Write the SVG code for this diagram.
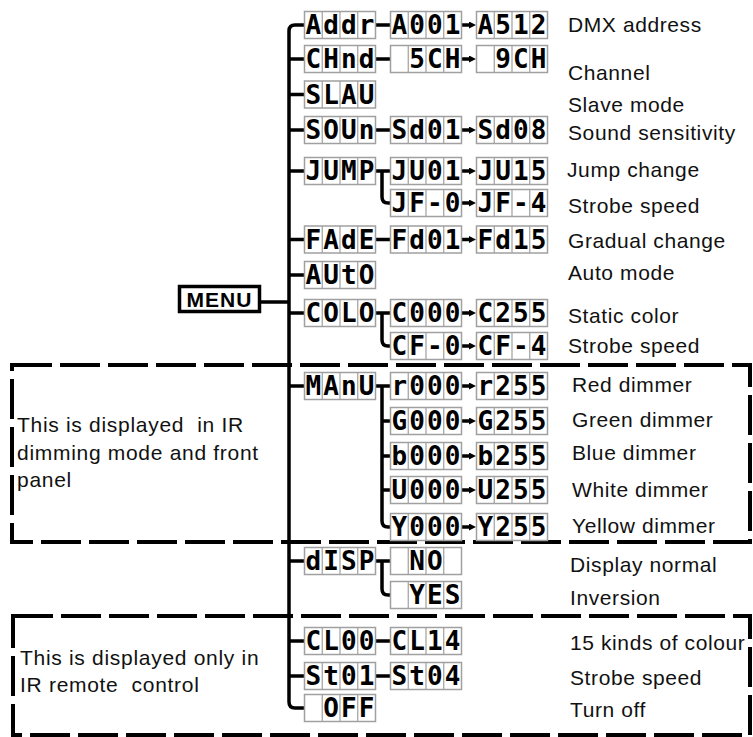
<svg xmlns="http://www.w3.org/2000/svg" xmlns:xlink="http://www.w3.org/1999/xlink" width="753" height="737" viewBox="0 0 753 737">
<style>
.seg{font-family:"DejaVu Sans Mono",monospace;font-weight:bold;font-size:26px;fill:#000;text-anchor:middle}
.lbl{font-family:"Liberation Sans",Arial,sans-serif;font-size:21px;letter-spacing:0.6px;fill:#111}
.note{font-family:"Liberation Sans",Arial,sans-serif;font-size:21px;letter-spacing:0.7px;fill:#111}
.ln{fill:none;stroke:#000;stroke-width:3.5}
.dash{fill:none;stroke:#000;stroke-width:4;stroke-dasharray:40 8}
.cellbox{fill:#fff;stroke:#a0a0a0;stroke-width:1.5}
</style>
<defs>
<g id="cell">
<rect class="cellbox" x="0" y="0" width="71" height="27"/>
<path d="M17.75 0V27M35.5 0V27M53.25 0V27" stroke="#a0a0a0" stroke-width="1.2"/>
</g>
<marker id="arr" markerUnits="userSpaceOnUse" markerWidth="8" markerHeight="8" refX="2" refY="3.5" orient="auto">
<path d="M0 0L7 3.5L0 7z" fill="#000"/>
</marker>
</defs>
<rect width="753" height="737" fill="#fff"/>

<g id="regions">
<rect class="dash" x="12" y="365" width="738" height="177"/>
<rect class="dash" x="13" y="616" width="737" height="119"/>
<text class="note" x="17" y="432" xml:space="preserve">This is displayed  in IR</text>
<text class="note" x="17" y="460">dimming mode and front</text>
<text class="note" x="17" y="487">panel</text>
<text class="note" x="20" y="665">This is displayed only in</text>
<text class="note" x="20" y="692" xml:space="preserve">IR remote  control</text>
</g>

<g id="connectors">
<path class="ln" stroke-width="4" d="M305 25H295Q289 25 289 31V702Q289 708 295 708H305"/>
<path class="ln" d="M261 302H289M289 59H305M289 94.5H305M289 130H305M289 171H305M289 239.5H305M289 275H305M289 313H305M289 386H305M289 561H305M289 641H305M289 676H305"/>
<path class="ln" d="M375.5 25H390.5M375.5 59H390.5M375.5 130H390.5M375.5 171H390.5M375.5 239.5H390.5M375.5 313H390.5M375.5 386H390.5M375.5 561H390.5M375.5 641H390.5M375.5 676H390.5"/>
<path class="ln" d="M382 171V197Q382 203 388 203H390.5M382 313V340Q382 346 388 346H390.5M382 386V521Q382 527 388 527H390.5M382 421H390.5M382 456H390.5M382 490H390.5M382 561V589Q382 595 388 595H390.5"/>
<g class="ln" stroke-width="3" marker-end="url(#arr)">
<path d="M461.5 25H471"/><path d="M461.5 59H471"/><path d="M461.5 130H471"/><path d="M461.5 171H471"/><path d="M461.5 203H471"/><path d="M461.5 239.5H471"/><path d="M461.5 313H471"/><path d="M461.5 346H471"/><path d="M461.5 386H471"/><path d="M461.5 421H471"/><path d="M461.5 456H471"/><path d="M461.5 490H471"/><path d="M461.5 527H471"/>
</g>
</g>

<g id="menu">
<rect x="179.5" y="286.5" width="80" height="25" fill="#fff" stroke="#000" stroke-width="3.5"/>
<text x="219.5" y="306.5" text-anchor="middle" style="font-family:'Liberation Sans',Arial,sans-serif;font-weight:bold;font-size:21px;letter-spacing:1px">MENU</text>
</g>

<g id="n-addr" transform="translate(304.5,11.5)"><use xlink:href="#cell"/><text class="seg" x="8.9 26.6 44.4 62.1" y="22.5">Addr</text></g>
<g id="n-a001" transform="translate(390.5,11.5)"><use xlink:href="#cell"/><text class="seg" x="8.9 26.6 44.4 62.1" y="22.5">A001</text></g>
<g id="n-a512" transform="translate(476.5,11.5)"><use xlink:href="#cell"/><text class="seg" x="8.9 26.6 44.4 62.1" y="22.5">A512</text></g>

<g id="n-chnd" transform="translate(304.5,45.5)"><use xlink:href="#cell"/><text class="seg" x="8.9 26.6 44.4 62.1" y="22.5">CHnd</text></g>
<g id="n-5ch" transform="translate(390.5,45.5)"><use xlink:href="#cell"/><text class="seg" x="26.6 44.4 62.1" y="22.5">5CH</text></g>
<g id="n-9ch" transform="translate(476.5,45.5)"><use xlink:href="#cell"/><text class="seg" x="26.6 44.4 62.1" y="22.5">9CH</text></g>

<g id="n-slau" transform="translate(304.5,81)"><use xlink:href="#cell"/><text class="seg" x="8.9 26.6 44.4 62.1" y="22.5">SLAU</text></g>

<g id="n-soun" transform="translate(304.5,116.5)"><use xlink:href="#cell"/><text class="seg" x="8.9 26.6 44.4 62.1" y="22.5">SOUn</text></g>
<g id="n-sd01" transform="translate(390.5,116.5)"><use xlink:href="#cell"/><text class="seg" x="8.9 26.6 44.4 62.1" y="22.5">Sd01</text></g>
<g id="n-sd08" transform="translate(476.5,116.5)"><use xlink:href="#cell"/><text class="seg" x="8.9 26.6 44.4 62.1" y="22.5">Sd08</text></g>

<g id="n-jump" transform="translate(304.5,157.5)"><use xlink:href="#cell"/><text class="seg" x="8.9 26.6 44.4 62.1" y="22.5">JUMP</text></g>
<g id="n-ju01" transform="translate(390.5,157.5)"><use xlink:href="#cell"/><text class="seg" x="8.9 26.6 44.4 62.1" y="22.5">JU01</text></g>
<g id="n-ju15" transform="translate(476.5,157.5)"><use xlink:href="#cell"/><text class="seg" x="8.9 26.6 44.4 62.1" y="22.5">JU15</text></g>
<g id="n-jf0" transform="translate(390.5,189.5)"><use xlink:href="#cell"/><text class="seg" x="8.9 26.6 44.4 62.1" y="22.5">JF-0</text></g>
<g id="n-jf4" transform="translate(476.5,189.5)"><use xlink:href="#cell"/><text class="seg" x="8.9 26.6 44.4 62.1" y="22.5">JF-4</text></g>

<g id="n-fade" transform="translate(304.5,226)"><use xlink:href="#cell"/><text class="seg" x="8.9 26.6 44.4 62.1" y="22.5">FAdE</text></g>
<g id="n-fd01" transform="translate(390.5,226)"><use xlink:href="#cell"/><text class="seg" x="8.9 26.6 44.4 62.1" y="22.5">Fd01</text></g>
<g id="n-fd15" transform="translate(476.5,226)"><use xlink:href="#cell"/><text class="seg" x="8.9 26.6 44.4 62.1" y="22.5">Fd15</text></g>

<g id="n-auto" transform="translate(304.5,261.5)"><use xlink:href="#cell"/><text class="seg" x="8.9 26.6 44.4 62.1" y="22.5">AUtO</text></g>

<g id="n-colo" transform="translate(304.5,299.5)"><use xlink:href="#cell"/><text class="seg" x="8.9 26.6 44.4 62.1" y="22.5">COLO</text></g>
<g id="n-c000" transform="translate(390.5,299.5)"><use xlink:href="#cell"/><text class="seg" x="8.9 26.6 44.4 62.1" y="22.5">C000</text></g>
<g id="n-c255" transform="translate(476.5,299.5)"><use xlink:href="#cell"/><text class="seg" x="8.9 26.6 44.4 62.1" y="22.5">C255</text></g>
<g id="n-cf0" transform="translate(390.5,332.5)"><use xlink:href="#cell"/><text class="seg" x="8.9 26.6 44.4 62.1" y="22.5">CF-0</text></g>
<g id="n-cf4" transform="translate(476.5,332.5)"><use xlink:href="#cell"/><text class="seg" x="8.9 26.6 44.4 62.1" y="22.5">CF-4</text></g>

<g id="n-manu" transform="translate(304.5,372.5)"><use xlink:href="#cell"/><text class="seg" x="8.9 26.6 44.4 62.1" y="22.5">MAnU</text></g>
<g id="n-r000" transform="translate(390.5,372.5)"><use xlink:href="#cell"/><text class="seg" x="8.9 26.6 44.4 62.1" y="22.5">r000</text></g>
<g id="n-r255" transform="translate(476.5,372.5)"><use xlink:href="#cell"/><text class="seg" x="8.9 26.6 44.4 62.1" y="22.5">r255</text></g>
<g id="n-g000" transform="translate(390.5,407.5)"><use xlink:href="#cell"/><text class="seg" x="8.9 26.6 44.4 62.1" y="22.5">G000</text></g>
<g id="n-g255" transform="translate(476.5,407.5)"><use xlink:href="#cell"/><text class="seg" x="8.9 26.6 44.4 62.1" y="22.5">G255</text></g>
<g id="n-b000" transform="translate(390.5,442.5)"><use xlink:href="#cell"/><text class="seg" x="8.9 26.6 44.4 62.1" y="22.5">b000</text></g>
<g id="n-b255" transform="translate(476.5,442.5)"><use xlink:href="#cell"/><text class="seg" x="8.9 26.6 44.4 62.1" y="22.5">b255</text></g>
<g id="n-u000" transform="translate(390.5,476.5)"><use xlink:href="#cell"/><text class="seg" x="8.9 26.6 44.4 62.1" y="22.5">U000</text></g>
<g id="n-u255" transform="translate(476.5,476.5)"><use xlink:href="#cell"/><text class="seg" x="8.9 26.6 44.4 62.1" y="22.5">U255</text></g>
<g id="n-y000" transform="translate(390.5,513.5)"><use xlink:href="#cell"/><text class="seg" x="8.9 26.6 44.4 62.1" y="22.5">Y000</text></g>
<g id="n-y255" transform="translate(476.5,513.5)"><use xlink:href="#cell"/><text class="seg" x="8.9 26.6 44.4 62.1" y="22.5">Y255</text></g>

<g id="n-disp" transform="translate(304.5,547.5)"><use xlink:href="#cell"/><text class="seg" x="8.9 26.6 44.4 62.1" y="22.5">dISP</text></g>
<g id="n-no" transform="translate(390.5,547.5)"><use xlink:href="#cell"/><text class="seg" x="26.6 44.4" y="22.5">NO</text></g>
<g id="n-yes" transform="translate(390.5,581.5)"><use xlink:href="#cell"/><text class="seg" x="26.6 44.4 62.1" y="22.5">YES</text></g>

<g id="n-cl00" transform="translate(304.5,627.5)"><use xlink:href="#cell"/><text class="seg" x="8.9 26.6 44.4 62.1" y="22.5">CL00</text></g>
<g id="n-cl14" transform="translate(390.5,627.5)"><use xlink:href="#cell"/><text class="seg" x="8.9 26.6 44.4 62.1" y="22.5">CL14</text></g>
<g id="n-st01" transform="translate(304.5,662.5)"><use xlink:href="#cell"/><text class="seg" x="8.9 26.6 44.4 62.1" y="22.5">St01</text></g>
<g id="n-st04" transform="translate(390.5,662.5)"><use xlink:href="#cell"/><text class="seg" x="8.9 26.6 44.4 62.1" y="22.5">St04</text></g>
<g id="n-off" transform="translate(304.5,694.5)"><use xlink:href="#cell"/><text class="seg" x="26.6 44.4 62.1" y="22.5">OFF</text></g>

<g id="labels">
<text class="lbl" x="568" y="32">DMX address</text>
<text class="lbl" x="568" y="80">Channel</text>
<text class="lbl" x="568" y="112">Slave mode</text>
<text class="lbl" x="568" y="140">Sound sensitivity</text>
<text class="lbl" x="567" y="177">Jump change</text>
<text class="lbl" x="568" y="213">Strobe speed</text>
<text class="lbl" x="568" y="248">Gradual change</text>
<text class="lbl" x="568" y="280">Auto mode</text>
<text class="lbl" x="568" y="323">Static color</text>
<text class="lbl" x="568" y="353">Strobe speed</text>
<text class="lbl" x="572" y="392">Red dimmer</text>
<text class="lbl" x="572" y="427">Green dimmer</text>
<text class="lbl" x="572" y="460">Blue dimmer</text>
<text class="lbl" x="572" y="497">White dimmer</text>
<text class="lbl" x="572" y="533">Yellow dimmer</text>
<text class="lbl" x="570" y="572">Display normal</text>
<text class="lbl" x="570" y="605">Inversion</text>
<text class="lbl" x="570" y="650">15 kinds of colour</text>
<text class="lbl" x="570" y="685">Strobe speed</text>
<text class="lbl" x="570" y="717">Turn off</text>
</g>
</svg>
